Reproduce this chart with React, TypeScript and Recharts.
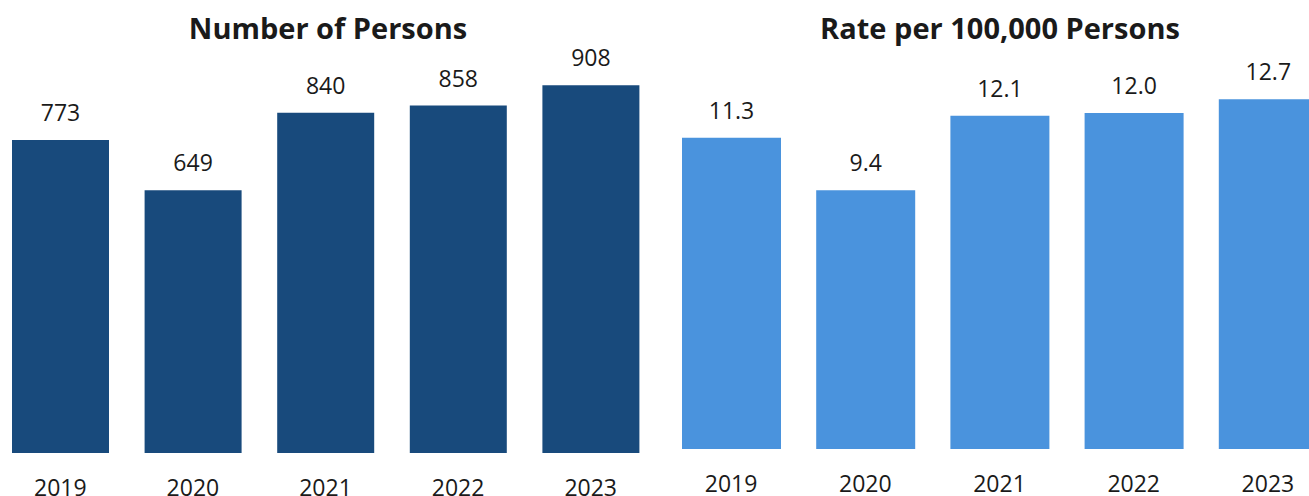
import { Bar, BarChart, LabelList, XAxis, YAxis } from "recharts"

const years = ["2019", "2020", "2021", "2022", "2023"]
const personCounts = [773, 649, 840, 858, 908]
const rateValues = [11.3, 9.4, 12.1, 12.2, 12.7]
const rateLabels = ["11.3", "9.4", "12.1", "12.0", "12.7"]

const FONT = "'Open Sans', 'Noto Sans', sans-serif"
const TEXT = "#1a1a1a"

const countData = years.map((year, i) => ({ year, value: personCounts[i] }))
const rateData = years.map((year, i) => ({
  year,
  value: rateValues[i],
  label: rateLabels[i],
}))

function Title({ text, center }: { text: string; center: number }) {
  return (
    <div
      style={{
        position: "absolute",
        top: 13,
        left: center - 250,
        width: 500,
        textAlign: "center",
        fontFamily: FONT,
        fontWeight: 700,
        fontSize: 29,
        lineHeight: 1,
        color: TEXT,
      }}
    >
      {text}
    </div>
  )
}

export default function App() {
  const tick = { fontSize: 23, fill: TEXT, fontFamily: FONT }
  return (
    <div
      style={{
        position: "absolute",
        top: 0,
        left: 0,
        width: 1309,
        height: 496,
        overflow: "hidden",
        background: "#fff",
      }}
    >
      <Title text="Number of Persons" center={328} />
      <Title text="Rate per 100,000 Persons" center={1000} />

      <div style={{ position: "absolute", top: 0, left: -6 }}>
        <BarChart
          width={663}
          height={496}
          data={countData}
          margin={{ top: 48, right: 0, bottom: 0, left: 0 }}
        >
          <XAxis
            dataKey="year"
            axisLine={false}
            tickLine={false}
            tickSize={0}
            tickMargin={27}
            height={43}
            tick={tick}
            interval={0}
          />
          <YAxis hide domain={[0, 1000]} />
          <Bar dataKey="value" fill="#184A7C" barSize={97} isAnimationActive={false}>
            <LabelList
              dataKey="value"
              position="top"
              offset={19}
              style={{ fontSize: 23, fill: TEXT, fontFamily: FONT }}
            />
          </Bar>
        </BarChart>
      </div>

      <div style={{ position: "absolute", top: 0, left: 664 }}>
        <BarChart
          width={671}
          height={496}
          data={rateData}
          margin={{ top: 36, right: 0, bottom: 0, left: 0 }}
        >
          <XAxis
            dataKey="year"
            axisLine={false}
            tickLine={false}
            tickSize={0}
            tickMargin={27}
            height={47}
            tick={tick}
            interval={0}
          />
          <YAxis hide domain={[0, 15]} />
          <Bar dataKey="value" fill="#4A93DD" barSize={99} isAnimationActive={false}>
            <LabelList
              dataKey="label"
              position="top"
              offset={19}
              style={{ fontSize: 23, fill: TEXT, fontFamily: FONT }}
            />
          </Bar>
        </BarChart>
      </div>
    </div>
  )
}
